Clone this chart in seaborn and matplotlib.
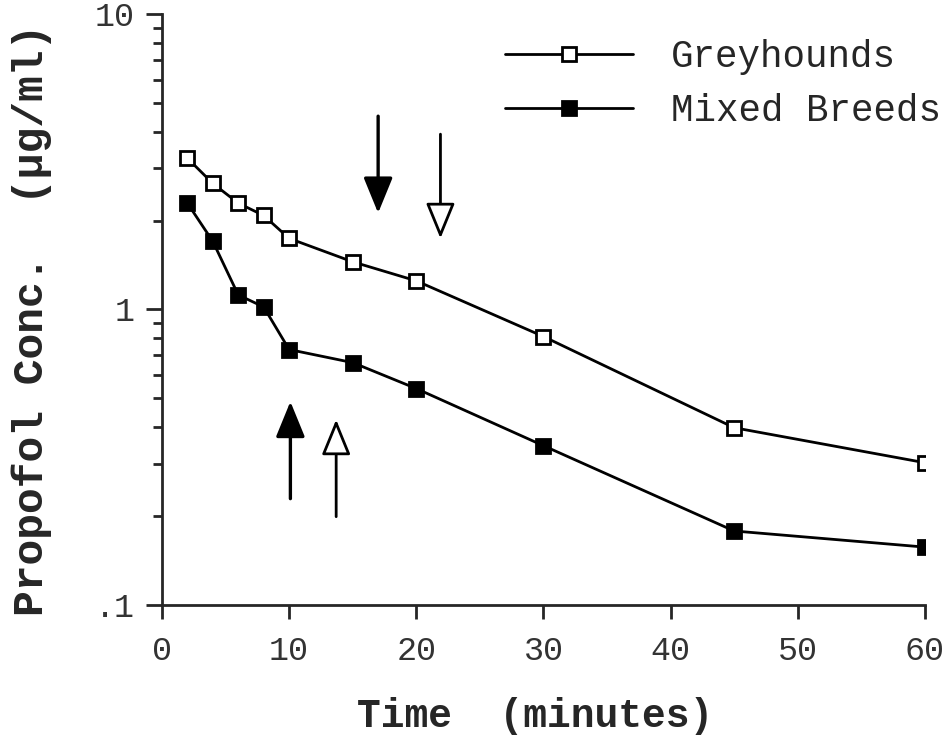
import numpy as np
import pandas as pd
import matplotlib
matplotlib.use('Agg')
import matplotlib.pyplot as plt
from matplotlib.ticker import LogLocator, NullFormatter
import seaborn as sns

# time points (minutes)
times = [2, 4, 6, 8, 10, 15, 20, 30, 45, 60]

# propofol concentration (ug/ml)
greyhounds = [3.25, 2.67, 2.29, 2.08, 1.74, 1.45, 1.25, 0.81, 0.398, 0.303]
mixed_breeds = [2.29, 1.70, 1.12, 1.02, 0.732, 0.661, 0.540, 0.346, 0.178, 0.157]

# arrows: (x, start y, tip y)
down_arrows = [(17.0, 4.51, 2.12), (21.9, 3.92, 1.74)]
up_arrows = [(10.1, 0.229, 0.488), (13.7, 0.199, 0.424)]
arrow_filled = [True, False]

sns.set_style('ticks')
plt.rcParams['font.family'] = ['Liberation Mono', 'DejaVu Sans Mono']

df = pd.DataFrame({
    'Time': times * 2,
    'Conc': greyhounds + mixed_breeds,
    'Group': ['Greyhounds'] * len(times) + ['Mixed Breeds'] * len(times),
})

fig = plt.figure(figsize=(9.51, 7.36), dpi=100)
ax = fig.add_axes([0.1703, 0.178, 0.8023, 0.803])

sns.lineplot(data=df[df.Group == 'Greyhounds'], x='Time', y='Conc', ax=ax,
             color='black', linewidth=2.0, marker='s', markersize=10,
             markerfacecolor='white', markeredgecolor='black', markeredgewidth=2.0,
             label='Greyhounds')
sns.lineplot(data=df[df.Group == 'Mixed Breeds'], x='Time', y='Conc', ax=ax,
             color='black', linewidth=2.0, marker='s', markersize=10,
             markerfacecolor='black', markeredgecolor='black', markeredgewidth=2.0,
             label='Mixed Breeds')

ax.set_yscale('log')
ax.set_ylim(0.1, 10)
ax.set_xlim(0, 60)
ax.set_xticks(range(0, 61, 10))
ax.set_yticks([0.1, 1, 10])
ax.set_yticklabels(['.1', '1', '10'])
ax.yaxis.set_minor_locator(LogLocator(base=10, subs=np.arange(2, 10)))
ax.yaxis.set_minor_formatter(NullFormatter())

for sp in ['top', 'right']:
    ax.spines[sp].set_visible(False)
for sp in ['left', 'bottom']:
    ax.spines[sp].set_linewidth(2.0)

ax.tick_params(axis='y', which='major', length=11.5, width=2.0, labelsize=24, pad=8, direction='out')
ax.tick_params(axis='y', which='minor', length=6.5, width=2.0, direction='out')
ax.tick_params(axis='x', which='major', length=10, width=2.0, labelsize=24, pad=12, direction='out')
for t in ax.get_xticklabels() + ax.get_yticklabels():
    t.set_color('#333333')

ax.set_xlabel('Time  (minutes)', fontsize=28.5, fontweight='bold', labelpad=22)
ax.set_ylabel('Propofol Conc.  (\u00b5g/ml)', fontsize=31, fontweight='bold', labelpad=31)
ax.xaxis.label.set_x(0.489)
ax.yaxis.label.set_y(0.483)

# arrows marking time points
for (x, y0, y1), filled in zip(down_arrows + up_arrows, arrow_filled + arrow_filled):
    ax.annotate('', xy=(x, y1), xytext=(x, y0),
                arrowprops=dict(arrowstyle='-|>,head_length=1.1,head_width=0.45',
                                mutation_scale=20,
                                ec='black', fc='black' if filled else 'white',
                                lw=2.4 if filled else 2.0,
                                shrinkA=0, shrinkB=0))

leg = ax.legend(loc='upper left', bbox_to_anchor=(505 / 951, 1 - 39 / 736),
                bbox_transform=fig.transFigure, frameon=False, fontsize=27,
                handlelength=3.4, handletextpad=1.03, labelspacing=0.49,
                borderpad=0, borderaxespad=0)

fig.savefig('out.png', dpi=100, facecolor='white')
